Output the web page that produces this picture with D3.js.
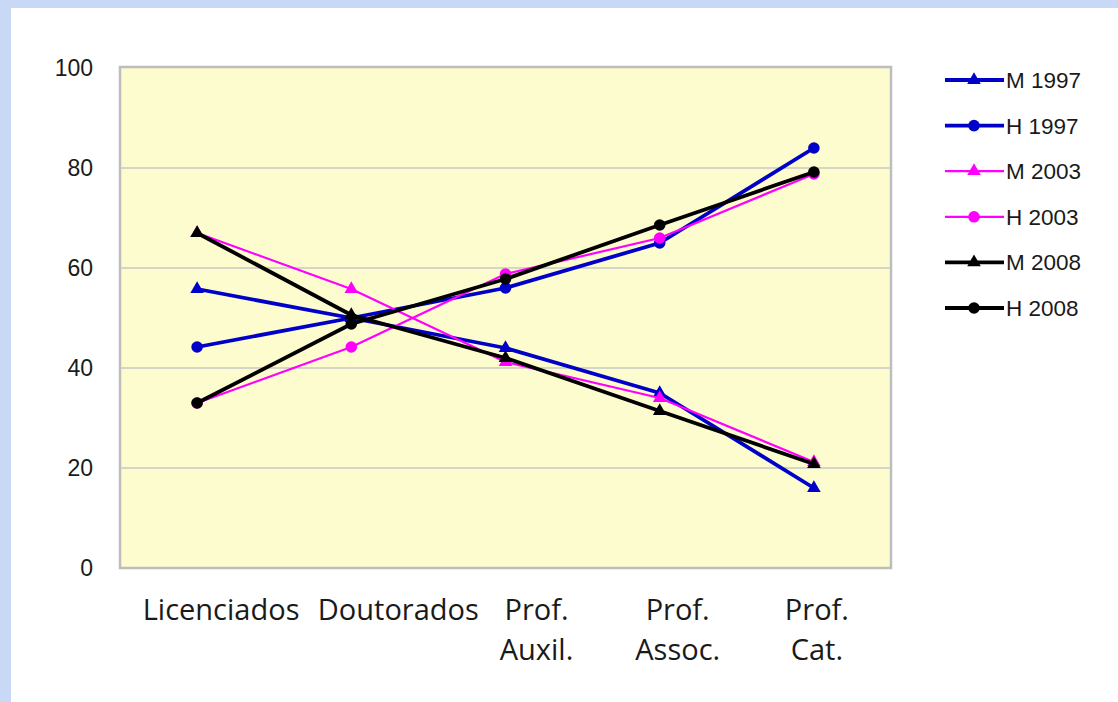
<!DOCTYPE html>
<html><head><meta charset="utf-8">
<script src="https://cdn.jsdelivr.net/npm/d3@7"></script>
<style>
html,body{margin:0;padding:0;background:#c9d8f4;}
svg{display:block;}
</style></head>
<body>
<svg id="chart" width="1118" height="702"></svg>
<script>
const categories = ["Licenciados", "Doutorados", "Prof.\nAuxil.", "Prof.\nAssoc.", "Prof.\nCat."];
const seriesNames = ["M 1997", "H 1997", "M 2003", "H 2003", "M 2008", "H 2008"];
const m1997 = [55.8, 50.0, 44.0, 35.0, 16.0];
const h1997 = [44.2, 50.0, 56.0, 65.0, 84.0];
const m2003 = [67.0, 55.8, 41.2, 34.0, 21.2];
const h2003 = [33.0, 44.2, 58.8, 66.0, 78.8];
const m2008 = [67.0, 50.6, 42.0, 31.4, 20.8];
const h2008 = [33.0, 48.8, 57.8, 68.6, 79.2];
const yTicks = [0, 20, 40, 60, 80, 100];

const seriesValues = [m1997, h1997, m2003, h2003, m2008, h2008];
const colors = ["#0000c8", "#0000c8", "#ff00ff", "#ff00ff", "#000000", "#000000"];
const widths = [3.8, 3.8, 2.2, 2.2, 3.8, 3.8];
const shapes = ["tri", "circ", "tri", "circ", "tri", "circ"];
const labelShift = [24, 47, 31, 18, 3];

const svg = d3.select("#chart");
svg.append("rect").attr("x", 11).attr("y", 8).attr("width", 1107).attr("height", 694).attr("fill", "#ffffff");

const L = 120, R = 891, T = 67, B = 568;
const x = d3.scaleBand().domain(categories).range([L, R]);
const y = d3.scaleLinear().domain([0, 100]).range([B, T + 1]);

svg.append("rect").attr("x", L).attr("y", T).attr("width", R - L).attr("height", B - T)
  .attr("fill", "#fdfccf").attr("stroke", "#bdbdbd").attr("stroke-width", 2.5);

svg.append("g").selectAll("line").data(yTicks.filter(d => d > 0 && d < 100)).join("line")
  .attr("x1", L + 1).attr("x2", R - 1).attr("y1", d => y(d)).attr("y2", d => y(d))
  .attr("stroke", "#d6d6c8").attr("stroke-width", 2);

const yAxis = d3.axisLeft(y).tickValues(yTicks).tickSize(0).tickPadding(27);
const ya = svg.append("g").attr("transform", `translate(${L},0)`).call(yAxis);
ya.select(".domain").remove();
ya.selectAll("text").attr("font-family", "Liberation Sans, Arial, sans-serif").attr("font-size", 23).attr("fill", "#1a1a1a");

const xl = svg.append("g");
categories.forEach((c, i) => {
  const t = xl.append("text").attr("text-anchor", "middle")
    .attr("font-family", "Open Sans, Lato, sans-serif").attr("font-size", 29).attr("fill", "#1a1a1a");
  c.split("\n").forEach((ln, j) => {
    t.append("tspan").attr("x", x(c) + x.bandwidth() / 2 + labelShift[i]).attr("y", 620 + j * 40).text(ln);
  });
});

const cx = c => x(c) + x.bandwidth() / 2;
const line = d3.line().x((d, i) => cx(categories[i])).y(d => y(d));
const triPath = d3.symbol().type(d3.symbolTriangle).size(80);

function marker(g, shape, px, py, color) {
  if (shape === "tri") {
    g.append("path").attr("d", triPath()).attr("transform", `translate(${px},${py})`).attr("fill", color);
  } else {
    g.append("circle").attr("cx", px).attr("cy", py).attr("r", 5.8).attr("fill", color);
  }
}

seriesValues.forEach((vals, s) => {
  const g = svg.append("g");
  g.append("path").datum(vals).attr("d", line).attr("fill", "none")
    .attr("stroke", colors[s]).attr("stroke-width", widths[s]).attr("stroke-linejoin", "round");
  vals.forEach((v, i) => marker(g, shapes[s], cx(categories[i]), y(v), colors[s]));
});

const lg = svg.append("g");
seriesNames.forEach((n, s) => {
  const ly = 80 + s * 45.6;
  lg.append("line").attr("x1", 945).attr("x2", 1004).attr("y1", ly).attr("y2", ly)
    .attr("stroke", colors[s]).attr("stroke-width", widths[s]);
  marker(lg, shapes[s], 974, ly, colors[s]);
  lg.append("text").attr("x", 1006).attr("y", ly + 8).text(n)
    .attr("font-family", "Liberation Sans, Arial, sans-serif").attr("font-size", 22.5).attr("fill", "#1a1a1a");
});
</script>
</body></html>
